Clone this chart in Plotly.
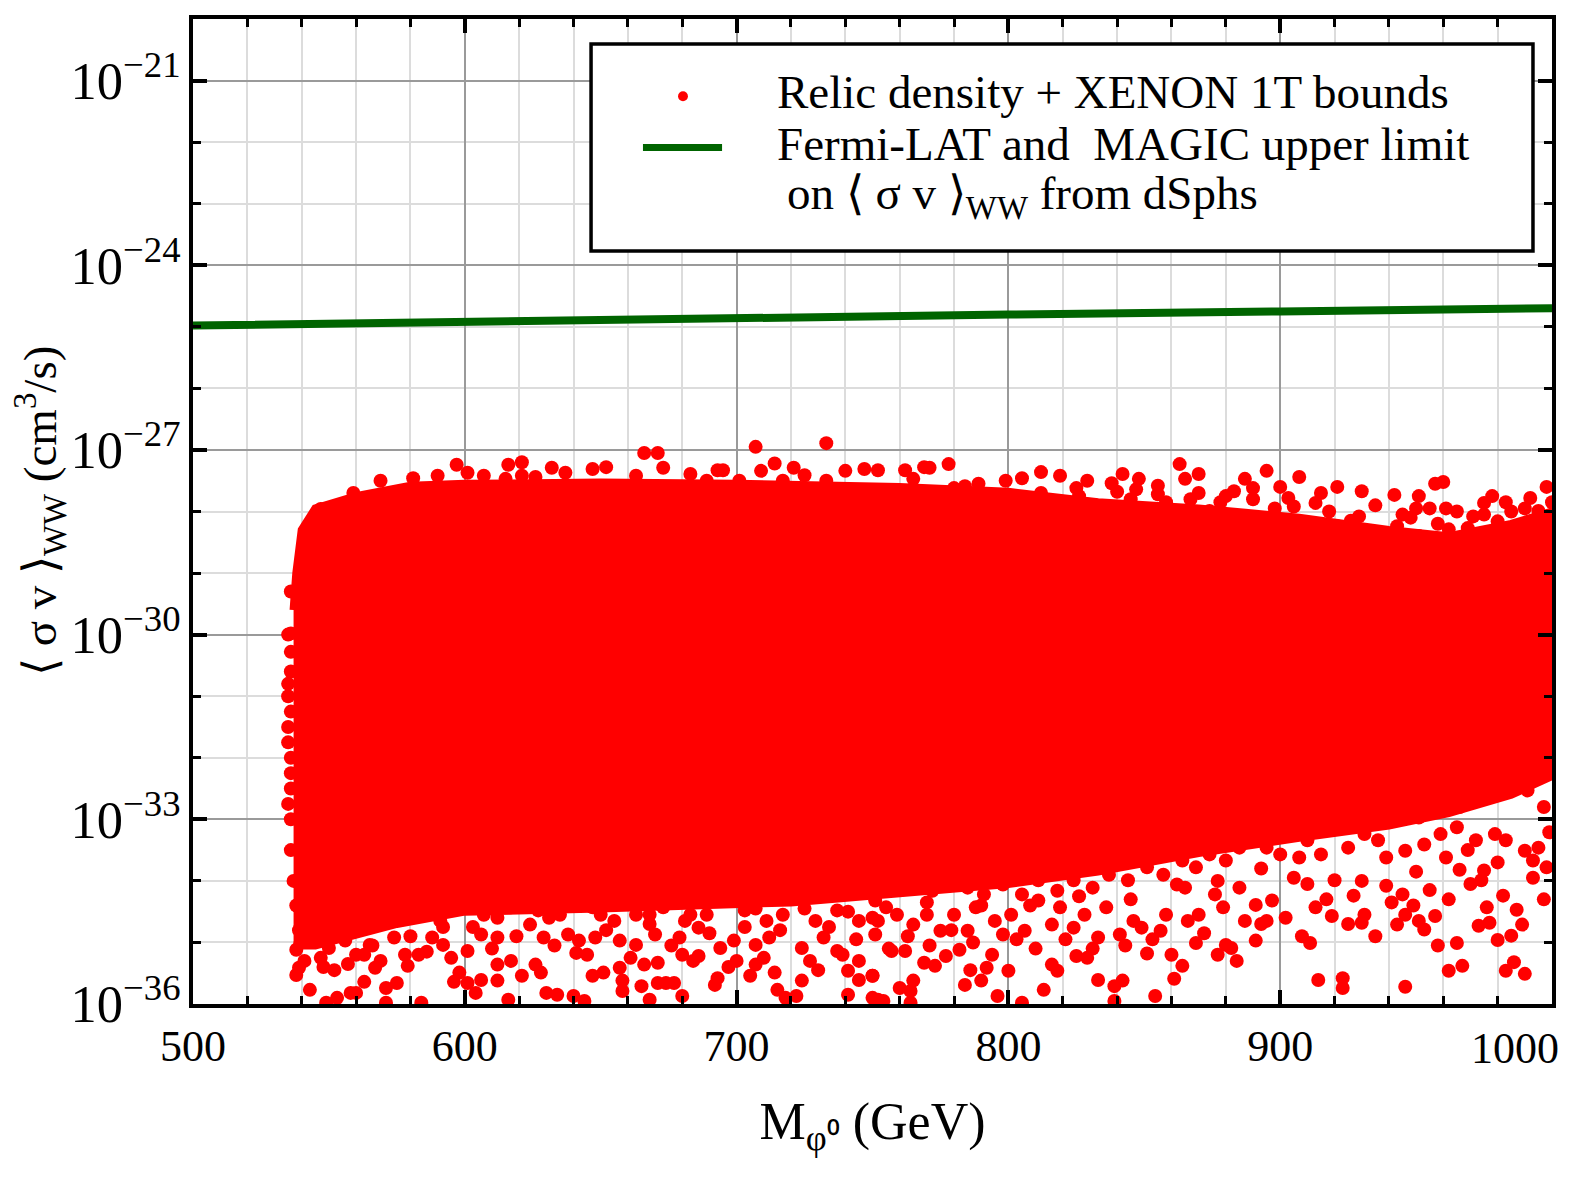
import numpy as np
import plotly.graph_objects as go

# dense core of the scan (outline), log10 of <sigma v>
core_mass = [537, 538, 540, 545, 560, 580, 600, 650, 700, 760, 800, 833, 870, 907, 940, 962, 985, 1000,
             1000, 985, 962, 940, 907, 870, 833, 800, 760, 720, 650, 600, 575, 555, 545, 537]
core_log_sv = [-29.60, -29.00, -28.30, -27.95, -27.75, -27.58, -27.55, -27.53, -27.55, -27.60, -27.68,
               -27.85, -27.95, -28.10, -28.30, -28.40, -28.20, -28.00,
               -32.30, -32.60, -32.90, -33.10, -33.30, -33.55, -33.85, -34.05, -34.20, -34.35,
               -34.45, -34.50, -34.70, -34.95, -35.05, -35.05]

# scattered scan points above the core
upper_mass = [666, 671, 707, 733, 597, 616, 621, 621, 632, 652,
              581, 590, 569, 559, 547, 553, 541, 541, 536, 536,
              673, 683, 693, 695, 709, 714, 721, 725, 740, 747,
              752, 733, 717, 701, 689, 663, 647, 637, 626, 607,
              601, 615, 778, 769, 771, 762, 863, 865, 870, 907,
              895, 812, 819, 842, 848, 998, 957, 960, 930, 921,
              942, 951, 992, 983, 975, 883, 887, 890, 867, 838,
              829, 789, 799, 805, 784, 780, 765, 962, 971, 961,
              955, 969, 998, 943, 921, 903, 913, 855, 847, 833,
              852, 874, 892, 907, 929, 936, 951, 980, 988, 995,
              885, 863, 815, 793, 771, 753, 969, 535, 536, 535,
              535, 536, 536, 536, 536, 537, 538, 539, 812, 826,
              845, 858, 878, 898, 918, 926, 948, 958, 975, 990,
              1000, 880, 900, 915, 935, 950, 965, 985, 825, 840,
              855, 870, 890, 905, 945, 978, 536, 535, 536, 535,
              536, 535]
upper_log_sv = [-27.05, -27.05, -26.95, -26.89, -27.24, -27.24, -27.20, -27.42, -27.29, -27.28,
                -27.46, -27.42, -27.50, -27.70, -27.96, -27.96, -28.61, -28.89, -29.98, -30.28,
                -27.29, -27.39, -27.33, -27.33, -27.34, -27.22, -27.29, -27.41, -27.34, -27.31,
                -27.33, -27.50, -27.50, -27.50, -27.50, -27.42, -27.31, -27.37, -27.44, -27.42,
                -27.37, -27.47, -27.23, -27.28, -27.29, -27.33, -27.23, -27.47, -27.39, -27.44,
                -27.34, -27.36, -27.42, -27.39, -27.47, -27.60, -27.55, -27.52, -27.67, -27.60,
                -27.73, -27.75, -27.78, -27.85, -27.86, -27.67, -27.47, -27.62, -27.80, -27.54,
                -27.50, -27.55, -27.50, -27.46, -27.59, -27.62, -27.47, -28.29, -28.08, -27.95,
                -27.95, -28.27, -28.24, -28.24, -28.24, -27.78, -27.86, -27.72, -27.64, -28.08,
                -28.24, -27.99, -28.16, -28.40, -28.08, -28.56, -28.40, -28.16, -28.48, -27.99,
                -28.56, -28.40, -27.91, -27.83, -27.75, -27.67, -28.65, -30.00, -30.60, -31.00,
                -31.50, -32.00, -32.50, -33.00, -33.50, -34.00, -34.40, -34.80, -27.70, -27.75,
                -27.80, -27.85, -27.85, -27.95, -28.00, -28.15, -28.10, -28.20, -28.05, -27.95,
                -27.85, -27.75, -27.60, -27.70, -27.90, -27.95, -28.00, -28.00, -27.62, -27.68,
                -27.58, -27.70, -27.80, -27.92, -28.05, -27.75, -29.30, -30.80, -31.25, -31.75,
                -32.25, -32.75]

# scattered scan points below the core
lower_mass = [538, 539, 543, 549, 553, 558, 560, 563, 567, 571,
              575, 579, 583, 571, 584, 596, 598, 601, 604, 606,
              612, 612, 616, 617, 621, 626, 628, 630, 634, 640,
              644, 641, 647, 651, 657, 658, 658, 665, 668, 666,
              671, 671, 674, 677, 680, 680, 686, 692, 693, 700,
              705, 707, 714, 715, 718, 724, 722, 727, 737, 741,
              741, 745, 750, 750, 754, 721, 750, 538, 545, 550,
              556, 560, 565, 574, 578, 588, 592, 601, 606, 612,
              624, 629, 638, 642, 648, 657, 663, 670, 679, 686,
              694, 699, 707, 712, 724, 732, 739, 745, 751, 576,
              584, 591, 599, 607, 617, 627, 635, 647, 655, 663,
              673, 681, 689, 703, 711, 717, 729, 737, 745, 755,
              679, 696, 660, 640, 604, 539, 543, 750, 752, 760,
              764, 764, 765, 757, 762, 769, 773, 777, 782, 784,
              786, 790, 792, 796, 800, 805, 813, 816, 818, 825,
              829, 833, 839, 839, 842, 851, 854, 861, 864, 869,
              877, 882, 891, 914, 923, 923, 946, 958, 962, 965,
              967, 983, 986, 990, 985, 980, 973, 977, 989, 987,
              982, 976, 975, 974, 966, 961, 957, 953, 951, 949,
              946, 943, 945, 939, 931, 930, 927, 919, 911, 920,
              913, 907, 905, 897, 895, 891, 887, 885, 880, 879,
              876, 870, 866, 865, 862, 858, 856, 849, 846, 841,
              836, 833, 828, 824, 819, 816, 811, 806, 801, 798,
              795, 788, 785, 780, 775, 770, 765, 759, 752, 751,
              999, 995, 998, 993, 990, 983, 979, 972, 965, 959,
              953, 946, 939, 936, 931, 925, 919, 915, 910, 905,
              900, 895, 890, 885, 880, 874, 869, 864, 857, 851,
              844, 837, 831, 824, 818, 811, 805, 798, 791, 785,
              778, 772, 765, 759, 752, 991, 984, 997, 977, 966,
              951, 936, 918, 907, 885, 867, 988, 997, 541, 547,
              552, 557, 563, 569, 586, 595, 603, 610, 619, 633,
              645, 652, 661, 668, 676, 684, 690, 697, 703, 710,
              716, 730, 734, 744, 756, 763, 771, 779, 787, 794,
              803, 810, 821, 831, 843, 853, 860, 872, 884, 893,
              902, 908, 917, 925, 935, 941, 955, 962, 970, 980,
              993, 997, 969, 950, 930, 910, 893, 877, 845, 826,
              808, 790, 770, 741, 725, 707, 683, 668, 650, 631,
              612, 592, 580, 566, 548]
lower_log_sv = [-35.53, -35.41, -35.77, -35.98, -35.90, -35.82, -35.82, -35.64, -35.41, -35.74,
                -35.66, -35.38, -35.20, -35.98, -35.98, -35.64, -35.49, -35.66, -35.82, -35.61,
                -35.36, -35.62, -35.93, -35.30, -35.54, -35.36, -35.49, -35.82, -35.85, -35.87,
                -35.95, -35.17, -35.54, -35.49, -35.41, -35.62, -35.79, -35.71, -35.93, -35.36,
                -35.33, -35.66, -35.66, -35.66, -35.20, -35.87, -35.22, -35.69, -35.58, -35.30,
                -35.54, -35.36, -35.49, -35.77, -35.90, -35.62, -35.87, -35.30, -35.14, -35.46,
                -35.85, -35.61, -35.54, -35.90, -35.95, -34.27, -34.60, -35.12, -34.92, -35.09,
                -34.97, -35.20, -35.04, -34.92, -35.20, -34.92, -35.04, -35.14, -34.87, -34.92,
                -34.71, -34.92, -34.87, -34.97, -34.92, -34.97, -35.04, -34.87, -34.92, -34.76,
                -35.09, -34.97, -35.04, -34.92, -35.09, -34.92, -35.20, -35.30, -34.87, -34.43,
                -34.55, -34.65, -34.43, -34.55, -34.43, -34.48, -34.55, -34.43, -34.65, -34.55,
                -34.43, -34.65, -34.55, -34.48, -34.65, -34.55, -34.65, -34.48, -34.65, -34.43,
                -34.22, -34.27, -34.22, -34.22, -34.22, -34.43, -34.68, -35.54, -35.93, -35.74,
                -35.79, -35.98, -35.62, -35.14, -35.14, -35.33, -35.38, -35.22, -35.12, -35.69,
                -35.45, -35.62, -35.41, -35.87, -35.46, -35.98, -35.77, -35.36, -35.46, -35.22,
                -35.25, -35.61, -35.71, -35.95, -35.62, -35.18, -35.87, -35.59, -35.38, -35.01,
                -35.20, -35.09, -34.97, -35.61, -35.58, -35.74, -35.72, -35.05, -35.46, -35.01,
                -35.38, -35.46, -35.32, -35.51, -34.89, -34.96, -34.73, -34.68, -34.71, -34.47,
                -34.24, -34.43, -33.83, -33.99, -33.82, -33.62, -34.57, -34.79, -34.65, -34.40,
                -34.55, -34.71, -34.22, -34.08, -34.55, -34.68, -34.24, -34.57, -35.01, -33.99,
                -34.43, -33.62, -33.95, -34.32, -34.65, -34.39, -34.65, -34.11, -35.04, -34.43,
                -34.22, -34.55, -34.65, -34.11, -34.06, -34.55, -34.81, -34.76, -34.65, -34.87,
                -34.43, -34.92, -34.55, -34.76, -34.43, -34.71, -34.32, -34.81, -34.55, -34.87,
                -34.65, -34.43, -34.81, -34.55, -34.81, -34.55, -34.71, -34.55, -34.65, -34.32,
                -33.21, -33.46, -33.78, -33.67, -33.51, -33.34, -33.24, -33.34, -33.13, -33.24,
                -33.41, -33.51, -33.62, -33.34, -33.24, -33.46, -33.13, -33.57, -33.34, -33.24,
                -33.57, -33.46, -33.24, -33.46, -33.67, -33.57, -33.78, -33.67, -33.90, -33.78,
                -33.99, -33.90, -34.11, -33.99, -34.16, -33.99, -34.22, -34.06, -34.22, -34.11,
                -33.99, -34.16, -33.99, -34.11, -33.99, -32.53, -32.31, -32.80, -32.64, -32.80,
                -32.97, -32.89, -32.97, -32.80, -33.05, -33.21, -32.15, -31.91, -35.30, -35.25,
                -35.45, -35.35, -35.20, -35.30, -35.15, -35.25, -34.75, -35.10, -34.90, -35.05,
                -35.20, -34.80, -35.25, -34.70, -35.05, -35.30, -34.85, -35.40, -34.75, -35.25,
                -34.80, -35.45, -34.75, -34.95, -35.10, -34.90, -35.05, -34.80, -35.00, -35.20,
                -34.95, -35.10, -34.95, -35.10, -35.05, -34.95, -35.20, -34.85, -35.30, -34.70,
                -34.60, -34.90, -34.30, -34.70, -34.90, -34.35, -34.15, -34.30, -34.05, -33.70,
                -33.95, -34.30, -33.50, -33.85, -34.00, -34.05, -33.80, -34.00, -34.30, -34.25,
                -34.40, -34.40, -34.35, -34.50, -34.45, -34.45, -34.55, -34.55, -34.55, -34.60,
                -34.60, -34.75, -34.90, -35.05, -35.40]

# Fermi-LAT + MAGIC dSph limit on <sigma v>_WW
limit_mass = [500, 600, 700, 800, 900, 1000]
limit_sv = [1.05e-25, 1.23e-25, 1.41e-25, 1.58e-25, 1.78e-25, 2.0e-25]

mass_ticks = [500, 600, 700, 800, 900, 1000]
mass_labels = ["500", "600", "700", "800", "900", ""]  # "1000" drawn below, shifted in from the edge

RED = "#ff0000"
GREEN = "#006400"
FONT = "Liberation Serif"

fig = go.Figure()

fig.add_trace(go.Scatter(x=core_mass, y=10 ** np.array(core_log_sv), mode="lines",
                         fill="toself", fillcolor=RED, line=dict(color=RED, width=8),
                         hoverinfo="skip"))
scan_mass = upper_mass + lower_mass
scan_sv = 10 ** np.array(upper_log_sv + lower_log_sv)
fig.add_trace(go.Scatter(x=scan_mass, y=scan_sv, mode="markers",
                         marker=dict(color=RED, size=14, line=dict(width=0))))
fig.add_trace(go.Scatter(x=limit_mass, y=limit_sv, mode="lines",
                         line=dict(color=GREEN, width=8)))

axis_common = dict(showline=True, linecolor="black", linewidth=4, mirror="allticks",
                   ticks="inside", ticklen=14, tickwidth=4, tickcolor="black",
                   showgrid=True, gridcolor="#9a9a9a", gridwidth=1.5)

fig.update_xaxes(range=[500, 1000], tickmode="array", tickvals=mass_ticks, ticktext=mass_labels,
                 tickfont=dict(family=FONT, size=44, color="black"),
                 minor=dict(dtick=20, tick0=500, ticks="inside", ticklen=8, tickwidth=3,
                            tickcolor="black", showgrid=True, gridcolor="#dcdcdc", gridwidth=1.5),
                 title=dict(text="M<sub>φ⁰</sub> (GeV)", font=dict(family=FONT, size=52, color="black"),
                            standoff=34),
                 **axis_common)
fig.update_yaxes(type="log", range=[-36, -20], dtick=3, tick0=-36, exponentformat="power",
                 tickfont=dict(family=FONT, size=42, color="black"),
                 minor=dict(dtick=1, ticks="inside", ticklen=8, tickwidth=3, tickcolor="black",
                            showgrid=True, gridcolor="#dcdcdc", gridwidth=1.5),
                 **axis_common)

# hand-placed legend box (paper coords)
shapes = [
    dict(type="rect", xref="paper", yref="paper", x0=0.2929, x1=0.986, y0=0.7645, y1=0.9745,
         line=dict(color="black", width=3.5), fillcolor="white", layer="above"),
    dict(type="circle", xref="paper", yref="paper", x0=0.3569, x1=0.3642, y0=0.9164, y1=0.9266,
         line=dict(width=0), fillcolor=RED, layer="above"),
    dict(type="line", xref="paper", yref="paper", x0=0.3311, x1=0.3893, y0=0.8695, y1=0.8695,
         line=dict(color=GREEN, width=7), layer="above"),
]
legend_font = dict(family=FONT, size=47, color="black")
annotations = [
    dict(text="Relic density + XENON 1T bounds", x=0.4283, y=0.9255),
    dict(text="Fermi-LAT and\u00a0 MAGIC upper limit", x=0.4283, y=0.8735),
    dict(text="on ⟨ σ v ⟩<sub>WW</sub> from dSphs", x=0.4356, y=0.8195),
]
for a in annotations:
    a.update(xref="paper", yref="paper", xanchor="left", yanchor="middle",
             showarrow=False, font=legend_font)

# y-axis title and the last x tick label
annotations.append(dict(text="⟨ σ v ⟩<sub>WW</sub> (cm<sup>3</sup>/s)", textangle=-90,
                        xref="paper", yref="paper", x=-0.1125, y=0.5005,
                        xanchor="center", yanchor="middle", showarrow=False,
                        font=dict(family=FONT, size=47, color="black")))
annotations.append(dict(text="1000", xref="paper", yref="paper", x=0.9728, y=-0.0449,
                        xanchor="center", yanchor="middle", showarrow=False,
                        font=dict(family=FONT, size=44, color="black")))

# page body keeps an 8 px margin, so the figure is 8 px smaller and margins shifted
fig.update_layout(width=1566, height=1173, showlegend=False,
                  paper_bgcolor="white", plot_bgcolor="white",
                  margin=dict(l=185, r=22, t=7, b=177),
                  shapes=shapes, annotations=annotations)

fig.write_html("out.html")
